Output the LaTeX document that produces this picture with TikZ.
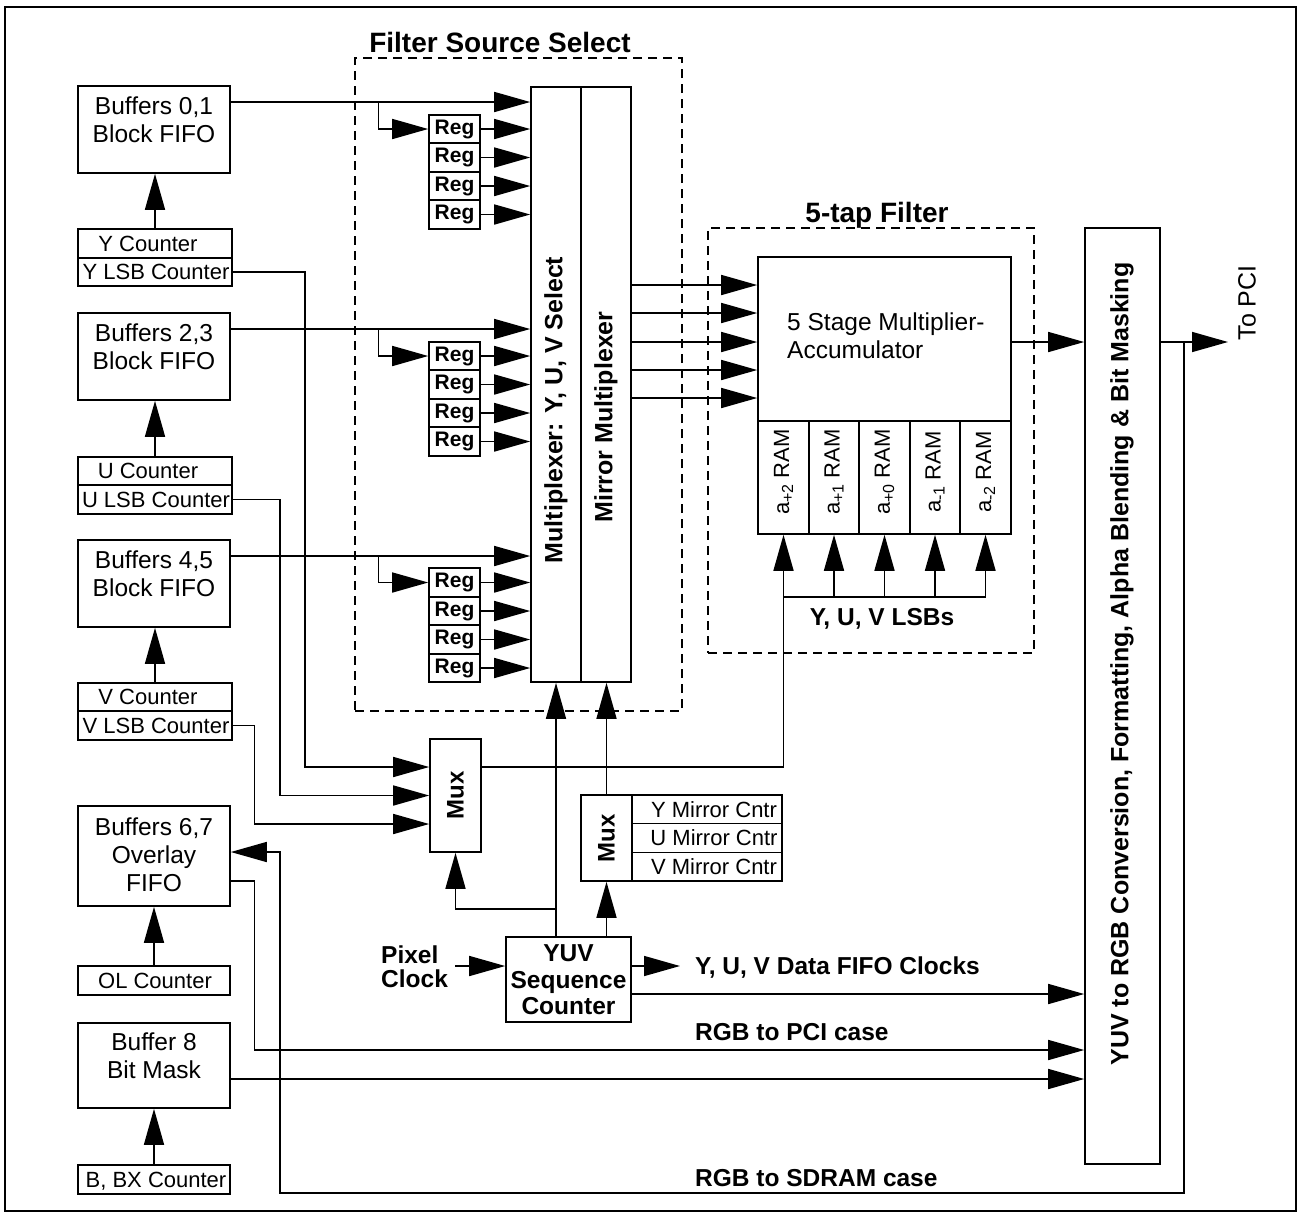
\documentclass[tikz,border=0pt]{standalone}
\usepackage{fontspec}
\setmainfont{Liberation Sans}
\usetikzlibrary{arrows.meta}
\begin{document}
\begin{tikzpicture}[x=1pt,y=-1pt,
  box/.style={draw, line width=1.6pt, inner sep=0pt},
  wire/.style={line width=1.6pt},
  arr/.style={line width=1.6pt, -{Triangle[length=36pt,width=20pt]}},
  dbox/.style={draw, line width=1.3pt, dash pattern=on 9pt off 6pt, inner sep=0pt},
  nt/.style={font=\fontsize{24.5}{28}\selectfont, align=center, inner sep=0pt},
  ct/.style={font=\fontsize{22}{24}\selectfont, inner sep=0pt, text height=15.8pt, text depth=0pt},
  bt/.style={font=\bfseries\fontsize{24.5}{26.5}\selectfont, align=center, inner sep=0pt},
  bl/.style={font=\bfseries\fontsize{24.5}{26.5}\selectfont, inner sep=0pt, text height=17.6pt, text depth=0pt},
  ttl/.style={font=\bfseries\fontsize{28}{30}\selectfont, inner sep=0pt, text height=20pt, text depth=0pt},
  vt/.style={font=\bfseries\fontsize{25}{25}\selectfont, inner sep=0pt, rotate=90},
  ramt/.style={font=\fontsize{22}{22}\selectfont, inner sep=0pt, rotate=90},
  regb/.style={box, minimum width=51pt, minimum height=28.5pt, font=\bfseries\fontsize{21}{21}\selectfont},
  cbox/.style={box, minimum width=154pt, minimum height=28.5pt},
  bbox/.style={box, minimum width=152pt},
]
\useasboundingbox (0,0) rectangle (1301,1216);
\draw[line width=1.6pt] (5,7) rectangle (1296,1211);

% dashed groups
\node[dbox, minimum width=327pt, minimum height=653pt] (fss) at (518.5,384.5) {};
\node[ttl] (fsst) at (500,42) {Filter Source Select};
\node[dbox, minimum width=326pt, minimum height=425pt] (ftap) at (871,440.5) {};
\node[ttl] (ftapt) at (877,212) {5-tap Filter};

% left column
\node[bbox, minimum height=87pt] (b01) at (154,129.5) {};
\node[nt] (b01t) at (154,119.5) {Buffers 0,1\\Block FIFO};
\node[cbox] (yc) at (155,243.5) {};
\node[ct] (yct) at (148,243.5) {Y Counter};
\node[cbox] (ylsb) at (155,272) {};
\node[ct] (ylsbt) at (156,272) {Y LSB Counter};

\node[bbox, minimum height=87pt] (b23) at (154,356.5) {};
\node[nt] (b23t) at (154,346.5) {Buffers 2,3\\Block FIFO};
\node[cbox] (uc) at (155,471) {};
\node[ct] (uct) at (148,471) {U Counter};
\node[cbox] (ulsb) at (155,499.5) {};
\node[ct] (ulsbt) at (156,499.5) {U LSB Counter};

\node[bbox, minimum height=87pt] (b45) at (154,583.5) {};
\node[nt] (b45t) at (154,573.5) {Buffers 4,5\\Block FIFO};
\node[cbox] (vc) at (155,697) {};
\node[ct] (vct) at (148,697) {V Counter};
\node[cbox] (vlsb) at (155,725.5) {};
\node[ct] (vlsbt) at (156,725.5) {V LSB Counter};

\node[bbox, minimum height=100pt] (b67) at (154,856) {};
\node[nt] (b67t) at (154,854.5) {Buffers 6,7\\Overlay\\FIFO};
\node[box, minimum width=152pt, minimum height=29pt] (olc) at (154,980.5) {};
\node[ct] (olct) at (155,980.5) {OL Counter};
\node[bbox, minimum height=85pt] (b8) at (154,1065.5) {};
\node[nt] (b8t) at (154,1056) {Buffer 8\\Bit Mask};
\node[box, minimum width=152pt, minimum height=29pt] (bbx) at (154,1179.5) {};
\node[ct] (bbxt) at (156,1179.5) {B, BX Counter};

\foreach \c/\b in {yc/b01,uc/b23,vc/b45,olc/b67,bbx/b8}
  \draw[arr] (\c.north) -- (\c.north |- \b.south);

% multiplexers
\node[box, minimum width=50pt, minimum height=595pt] (mux1) at (556,384.5) {};
\node[vt] (mux1t) at (556,410) {Multiplexer: Y, U, V Select};
\node[box, minimum width=50pt, minimum height=595pt] (mirror) at (606,384.5) {};
\node[vt] (mirrort) at (606,417) {Mirror Multiplexer};

% buffer outputs and regs
\draw[arr] (b01.east |- 0,102) -- (mux1.west |- 0,102);
\draw[arr] (b23.east |- 0,329) -- (mux1.west |- 0,329);
\draw[arr] (b45.east |- 0,556) -- (mux1.west |- 0,556);
\foreach \n/\y in {11/129,12/157.5,13/186,14/214.5,21/356,22/384.5,23/413,24/441.5,31/582.5,32/611,33/639.5,34/668}{
  \node[regb] (r\n) at (454.5,\y) {Reg};
  \draw[arr] (r\n.east) -- (r\n.east -| mux1.west);
}
\draw[arr] (378.5,102) |- (r11.west);
\draw[arr] (378.5,329) |- (r21.west);
\draw[arr] (378.5,556) |- (r31.west);

% 5-tap filter
\node[box, minimum width=253pt, minimum height=164pt] (mac) at (884.5,339) {};
\node[nt, align=left, anchor=west] (mact) at (787,336) {5 Stage Multiplier-\\Accumulator};
\foreach \i/\x/\s in {1/783.5/+2,2/834/+1,3/884.5/+0,4/935/-1,5/985.5/-2}{
  \node[box, minimum width=50.5pt, minimum height=113pt] (ram\i) at (\x,477.5) {};
  \node[ramt] (ram\i t) at (\x,472) {a\raisebox{-0.35ex}{\fontsize{16}{16}\selectfont\s} RAM};
}
\foreach \y in {285,313,342,370,398}
  \draw[arr] (mirror.east |- 0,\y) -- (mac.west |- 0,\y);
\draw[wire] (ram1.south |- 0,597) -- (ram5.south |- 0,597);
\foreach \i in {2,3,4,5}
  \draw[arr] (ram\i.south |- 0,597) -- (ram\i.south);
\node[bl] (lsbt) at (882,617) {Y, U, V LSBs};

% YUV to RGB
\node[box, minimum width=75pt, minimum height=936pt] (yuv) at (1122.5,696) {};
\node[vt] (yuvt) at (1122,664) {YUV to RGB Conversion, Formatting, Alpha Blending \& Bit Masking};
\draw[arr] (mac.east |- 0,342) -- (yuv.west |- 0,342);
\coordinate (topci) at (1228,342);
\draw[arr] (yuv.east |- 0,342) -- (topci);
\node[font=\fontsize{25}{25}\selectfont, inner sep=0pt, rotate=90] (topcit) at (1247,303) {To PCI};

% LSB mux
\node[box, minimum width=51pt, minimum height=113pt] (mux2) at (455.5,795.5) {};
\node[vt, font=\bfseries\fontsize{24}{24}\selectfont] (mux2t) at (455.5,795.5) {Mux};
\draw[arr] (ylsb.east) -| (305,767) -- (mux2.west |- 0,767);
\draw[arr] (ulsb.east) -| (280,795.5) -- (mux2.west);
\draw[arr] (vlsb.east) -| (254.5,824) -- (mux2.west |- 0,824);
\draw[arr] (mux2.east |- 0,767) -| (ram1.south);

% mirror mux
\node[box, minimum width=51pt, minimum height=86pt] (mmux) at (606.5,838) {};
\node[vt, font=\bfseries\fontsize{24}{24}\selectfont] (mmuxt) at (606.5,838) {Mux};
\node[box, minimum width=150pt, minimum height=28.67pt] (ymc) at (707,809.3) {};
\node[ct] (ymct) at (714,809.3) {Y Mirror Cntr};
\node[box, minimum width=150pt, minimum height=28.67pt] (umc) at (707,838) {};
\node[ct] (umct) at (714,838) {U Mirror Cntr};
\node[box, minimum width=150pt, minimum height=28.67pt] (vmc) at (707,866.7) {};
\node[ct] (vmct) at (714,866.7) {V Mirror Cntr};
\draw[arr] (mmux.north) -- (mmux.north |- mirror.south);

% sequence counter
\node[box, minimum width=125pt, minimum height=85pt] (seq) at (568.5,979.5) {};
\node[bt] (seqt) at (568.5,980) {YUV\\Sequence\\Counter};
\node[bt, align=left, anchor=west, font=\bfseries\fontsize{24.5}{24}\selectfont] (pclk) at (381,967) {Pixel\\Clock};
\draw[arr] (455,966) -- (seq.west |- 0,966);
\coordinate (fifoclk) at (680,966);
\draw[arr] (seq.east |- 0,966) -- (fifoclk);
\node[bl, anchor=west] (fifot) at (695,966) {Y, U, V Data FIFO Clocks};
\draw[arr] (seq.east |- 0,994) -- (yuv.west |- 0,994);
\draw[arr] (mux1.south |- seq.north) -- (mux1.south);
\draw[arr] (mux1.south |- 0,909) -| (mux2.south);
\draw[arr] (mmux.south |- seq.north) -- (mmux.south);

% outputs to YUV/RGB and loops
\draw[arr] (b67.east |- 0,881) -| (254.5,1050) -- (yuv.west |- 0,1050);
\node[bl, anchor=west] (pcit) at (695,1032) {RGB to PCI case};
\draw[arr] (b8.east |- 0,1079) -- (yuv.west |- 0,1079);
\draw[arr] (1184,342) -- (1184,1193) -- (280,1193) -- (280,852) -- (b67.east |- 0,852);
\node[bl, anchor=west] (sdramt) at (695,1178) {RGB to SDRAM case};
\end{tikzpicture}
\end{document}
